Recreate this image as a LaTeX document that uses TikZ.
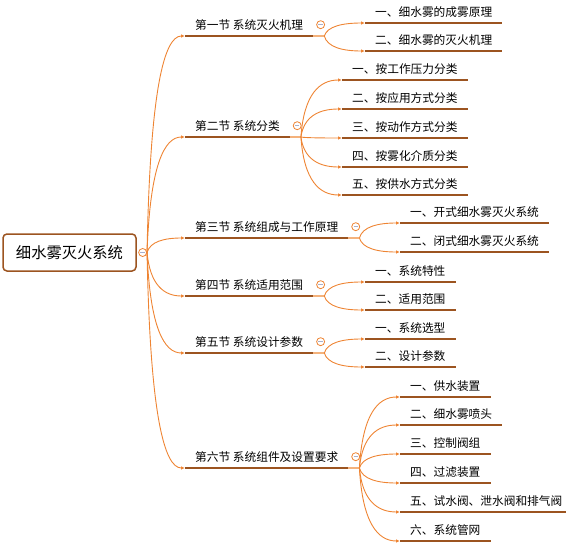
\documentclass[tikz,border=0pt]{standalone}
\usepackage{fontspec}
\setmainfont{Noto Sans CJK SC}
\usetikzlibrary{arrows.meta, positioning, calc}
\definecolor{mapbrown}{HTML}{9C5420}
\definecolor{maporange}{HTML}{EE8433}
\definecolor{mapstem}{HTML}{F4B27C}
\definecolor{mapminus}{HTML}{A9B0CC}
\tikzset{
  rootbox/.style={rectangle, draw=mapbrown, line width=1.5pt, rounded corners=4pt, fill=white,
    minimum width=133pt, minimum height=37pt, font=\fontsize{15.3}{18}\selectfont},
  topic/.style={rectangle, anchor=south west, inner xsep=10pt, inner ysep=3.4pt,
    text height=9.2pt, text depth=3pt, font=\fontsize{11.7}{14}\selectfont},
  uline/.style={line width=2.6pt, mapbrown},
  fold/.style={circle, draw=maporange, line width=0.8pt, fill=white, minimum size=8pt, inner sep=0pt,
    path picture={\draw[mapminus, line width=1.2pt] ([xshift=-2.2pt]path picture bounding box.center) -- ([xshift=2.2pt]path picture bounding box.center);}},
  link/.style={maporange, line width=0.9pt, -{Latex[length=4pt,width=3.5pt]}},
  stem/.style={mapstem, line width=2pt}
}
\newcommand{\branch}[2]{% curve from split point #1 to node #2
  \draw[link] let \p1=(#1), \p2=(#2.south west) in
    (#1) .. controls ({\x1+3pt}, {\y1+0.75*(\y2-\y1)}) and ({\x2-0.55*(\x2-\x1)}, \y2) .. (#2.south west);}

\begin{document}
\begin{tikzpicture}[x=1pt, y=1pt]
  \useasboundingbox (0,0) rectangle (566,-546);
  \node[rootbox] (root) at (69.5,-252.5) {细水雾灭火系统};
  \node[fold, right=1.5pt of root] (f0) {};

  % sections
  \foreach \name/\y/\txt in {s1/36/第一节 系统灭火机理, s2/137/第二节 系统分类,
      s3/238/第三节 系统组成与工作原理, s4/296/第四节 系统适用范围,
      s5/353/第五节 系统设计参数, s6/468/第六节 系统组件及设置要求}
    \node[topic] (\name) at (185,-\y) {\txt};

  % topics
  \foreach \name/\x/\y/\txt in {a1/365/23/一、细水雾的成雾原理, a2/365/51/二、细水雾的灭火机理,
      b1/342/80/一、按工作压力分类, b2/342/109/二、按应用方式分类, b3/342/138/三、按动作方式分类,
      b4/342/167/四、按雾化介质分类, b5/342/195/五、按供水方式分类,
      c1/400/223/一、开式细水雾灭火系统, c2/400/252/二、闭式细水雾灭火系统,
      d1/365/282/一、系统特性, d2/365/310/二、适用范围,
      e1/365/339/一、系统选型, e2/365/367/二、设计参数,
      g1/400/397/一、供水装置, g2/400/425/二、细水雾喷头, g3/400/454/三、控制阀组,
      g4/400/483/四、过滤装置, g5/400/512/五、试水阀、泄水阀和排气阀, g6/400/541/六、系统管网}
    \node[topic] (\name) at (\x,-\y) {\txt};

  \foreach \t in {s1,s2,s3,s4,s5,s6,a1,a2,b1,b2,b3,b4,b5,c1,c2,d1,d2,e1,e2,g1,g2,g3,g4,g5,g6}
    \draw[uline] (\t.south west) -- (\t.south east);

  % root links
  \foreach \t in {s1,s2,s3,s4,s5,s6} {\branch{f0.east}{\t}}

  % section stems, folds and links
  \foreach \t/\j in {s1/j1,s2/j2,s3/j3,s4/j4,s5/j5,s6/j6} {
    \draw[stem] (\t.south east) -- ++(11pt,0) coordinate (\j);
    \node[fold, above right=8.2pt and 4.2pt of \t.south east] {};
  }
  \branch{j1}{a1} \branch{j1}{a2}
  \foreach \t in {b1,b2,b3,b4,b5} {\branch{j2}{\t}}
  \branch{j3}{c1} \branch{j3}{c2}
  \branch{j4}{d1} \branch{j4}{d2}
  \branch{j5}{e1} \branch{j5}{e2}
  \foreach \t in {g1,g2,g3,g4,g5,g6} {\branch{j6}{\t}}
\end{tikzpicture}
\end{document}
